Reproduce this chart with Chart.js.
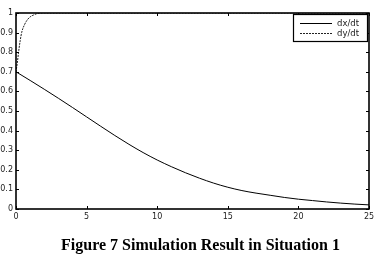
<!DOCTYPE html>
<html>
<head>
<meta charset="utf-8">
<script src="https://cdn.jsdelivr.net/npm/chart.js@4/dist/chart.umd.min.js"></script>
<style>
  html, body { margin: 0; padding: 0; background: #fff; overflow: hidden; }
  #wrap { position: relative; width: 379px; height: 254px; }
</style>
</head>
<body>
<div id="wrap"><canvas id="chart-simulation" width="379" height="254"></canvas></div>
<script>
// dx/dt curve (decreasing)
var dxTime = [0, 1, 2, 3, 4, 5, 6, 7, 8, 9, 10, 11, 12, 13, 14, 15, 16, 17, 18, 19, 20, 21, 22, 23, 24, 25];
var dxValues = [0.700, 0.656, 0.611, 0.565, 0.518, 0.470, 0.422, 0.375, 0.330, 0.288, 0.250, 0.216,
  0.185, 0.157, 0.132, 0.111, 0.094, 0.081, 0.070, 0.059, 0.050, 0.043, 0.036, 0.030, 0.025, 0.021];

// dy/dt curve (rises fast to 1)
var dyTime = [0, 0.1, 0.2, 0.3, 0.4, 0.6, 0.8, 1.0, 1.25, 1.5, 2, 25];
var dyValues = [0.70, 0.75, 0.81, 0.86, 0.90, 0.94, 0.965, 0.98, 0.99, 0.997, 1.0, 1.0];

var xTicks = [0, 5, 10, 15, 20, 25];
var yTicks = [0, 0.1, 0.2, 0.3, 0.4, 0.5, 0.6, 0.7, 0.8, 0.9, 1];
var seriesLabels = ['dx/dt', 'dy/dt'];
var caption = 'Figure 7 Simulation Result in Situation 1';

function toPoints(xs, ys) {
  return xs.map((x, i) => ({ x: x, y: ys[i] }));
}

// box round the plot with small inward ticks, matlab style
var framePlugin = {
  id: 'frame',
  afterDatasetsDraw(chart) {
    var ctx = chart.ctx, a = chart.chartArea;
    var xs = chart.scales.x, ys = chart.scales.y;
    ctx.save();
    ctx.strokeStyle = '#000';
    ctx.lineWidth = 1;
    xTicks.forEach(v => {
      var px = Math.round(xs.getPixelForValue(v)) + 0.5;
      ctx.beginPath();
      ctx.moveTo(px, a.bottom); ctx.lineTo(px, a.bottom - 3);
      ctx.moveTo(px, a.top); ctx.lineTo(px, a.top + 3);
      ctx.stroke();
    });
    yTicks.forEach(v => {
      var py = Math.round(ys.getPixelForValue(v)) + 0.5;
      ctx.beginPath();
      ctx.moveTo(a.left, py); ctx.lineTo(a.left + 3, py);
      ctx.moveTo(a.right, py); ctx.lineTo(a.right - 3, py);
      ctx.stroke();
    });
    ctx.lineWidth = 1.6;
    ctx.strokeRect(a.left, a.top, a.right - a.left, a.bottom - a.top);
    ctx.restore();
  }
};

// legend drawn inside the plot, top right
var insideLegend = {
  id: 'insideLegend',
  afterDraw(chart) {
    var ctx = chart.ctx, a = chart.chartArea;
    var w = 74, h = 27;
    var left = a.right - 2 - w, top = a.top + 1;
    ctx.save();
    ctx.fillStyle = '#fff';
    ctx.fillRect(left, top, w, h);
    ctx.strokeStyle = '#000';
    ctx.lineWidth = 1.2;
    ctx.strokeRect(left + 0.5, top + 0.5, w, h);
    ctx.font = "8.5px 'DejaVu Sans', sans-serif";
    ctx.textBaseline = 'middle';
    chart.data.datasets.forEach((ds, i) => {
      var y = top + 9.5 + i * 10;
      ctx.strokeStyle = ds.borderColor;
      ctx.lineWidth = 1;
      ctx.setLineDash(ds.borderDash || []);
      ctx.beginPath();
      ctx.moveTo(left + 7, y); ctx.lineTo(left + 39, y);
      ctx.stroke();
      ctx.setLineDash([]);
      ctx.fillStyle = '#222';
      ctx.fillText(ds.label, left + 44, y);
    });
    ctx.restore();
  }
};

// figure caption under the axes, a bit right of the plot centre like the paper
var captionPlugin = {
  id: 'caption',
  afterDraw(chart) {
    var ctx = chart.ctx, a = chart.chartArea;
    ctx.save();
    ctx.font = "bold 16px 'Liberation Serif', 'Times New Roman', serif";
    ctx.fillStyle = '#000';
    ctx.textAlign = 'center';
    ctx.textBaseline = 'alphabetic';
    ctx.fillText(caption, (a.left + a.right) / 2 + 8, 250);
    ctx.restore();
  }
};

var chartSimulation = new Chart(
  document.getElementById('chart-simulation').getContext('2d'),
  { type: 'line',
    data: {
      datasets: [{
          label: seriesLabels[0],
          data: toPoints(dxTime, dxValues),
          borderColor: '#000',
          borderWidth: 1,
          pointRadius: 0,
          cubicInterpolationMode: 'monotone',
          fill: false
        },
        {
          label: seriesLabels[1],
          data: toPoints(dyTime, dyValues),
          borderColor: '#222',
          borderWidth: 1,
          borderDash: [2, 1],
          pointRadius: 0,
          cubicInterpolationMode: 'monotone',
          fill: false
        }
      ]
    },
    options: {
      responsive: false,
      animation: false,
      layout: { padding: { left: 0, right: 10, top: 13, bottom: 25 } },
      scales: {
        x: {
          type: 'linear',
          min: 0,
          max: 25,
          afterBuildTicks: s => { s.ticks = xTicks.map(v => ({ value: v })); },
          afterFit: s => { s.height = 20; },
          grid: { display: false, drawTicks: false },
          border: { display: false },
          ticks: {
            padding: 3,
            autoSkip: false,
            color: '#222',
            font: { family: "'DejaVu Sans', sans-serif", size: 8 },
            maxRotation: 0
          }
        },
        y: {
          type: 'linear',
          min: 0,
          max: 1,
          afterBuildTicks: s => { s.ticks = yTicks.map(v => ({ value: v })); },
          afterFit: s => { s.width = 16; },
          grid: { display: false, drawTicks: false },
          border: { display: false },
          ticks: {
            padding: 3,
            autoSkip: false,
            color: '#222',
            font: { family: "'DejaVu Sans', sans-serif", size: 8 },
            callback: v => (Math.round(v * 10) / 10).toString()
          }
        }
      },
      plugins: {
        legend: { display: false },
        tooltip: { enabled: false },
        title: { display: false }
      }
    },
    plugins: [framePlugin, insideLegend, captionPlugin]
  }
); /* <-- End 'chartSimulation' */
</script>
</body>
</html>
